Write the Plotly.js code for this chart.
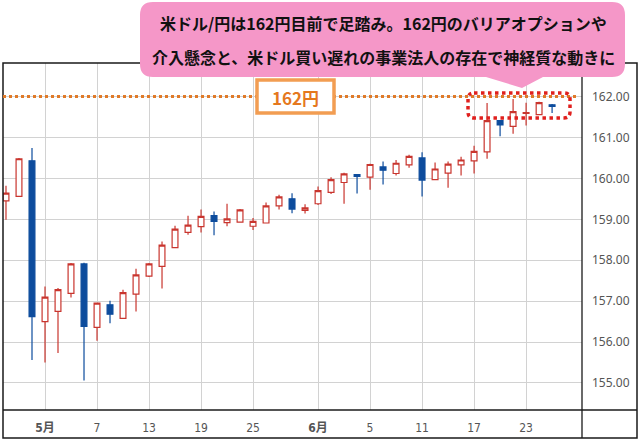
<!DOCTYPE html>
<html><head><meta charset="utf-8">
<script src="https://cdn.plot.ly/plotly-3.0.1.min.js"></script>
<style>html,body{margin:0;padding:0;background:#fff}#chart{width:640px;height:440px}</style>
</head><body><div id="chart"></div>
<script>
// ---- data ----
const dates = ['4/28','4/29','4/30','5/1','5/4','5/5','5/6','5/7','5/8','5/11','5/12','5/13','5/14','5/15','5/18','5/19','5/20','5/21','5/22','5/25','5/26','5/27','5/28','5/29','6/1','6/2','6/3','6/4','6/5','6/8','6/9','6/10','6/11','6/12','6/15','6/16','6/17','6/18','6/19','6/22','6/23','6/24','6/25'];
const openV  = [159.45,159.56,160.43,156.50,156.75,157.19,157.91,156.36,156.91,156.58,157.17,157.61,157.85,158.31,158.68,158.82,159.09,158.92,158.93,158.83,158.91,159.33,159.50,159.22,159.38,159.66,159.90,160.09,160.03,160.28,160.12,160.33,160.50,159.97,160.13,160.33,160.43,160.65,161.41,161.27,161.59,161.56,161.80];
const highV  = [159.82,160.50,160.74,157.36,157.32,157.93,157.94,156.97,157.01,157.28,157.79,157.93,158.46,158.84,159.09,159.24,159.19,159.38,159.25,159.03,159.41,159.60,159.64,159.37,159.80,160.03,160.14,160.11,160.36,160.41,160.45,160.58,160.64,160.39,160.41,160.53,160.80,161.84,161.42,161.94,161.85,161.87,161.82];
const lowV   = [158.99,159.56,155.56,155.50,155.73,157.09,155.06,156.03,156.46,156.57,156.75,157.59,157.31,158.30,158.62,158.68,158.61,158.83,158.93,158.74,158.91,159.24,159.15,159.14,159.35,159.62,159.38,159.63,159.72,159.85,160.07,160.26,159.56,159.97,159.77,160.07,160.12,160.48,161.03,161.09,161.29,161.56,161.60];
const closeV = [159.64,160.48,156.62,157.10,157.28,157.91,156.38,156.95,156.68,157.21,157.64,157.91,158.37,158.76,158.86,159.07,158.95,159.01,159.23,158.95,159.33,159.55,159.25,159.28,159.70,159.97,160.11,160.05,160.34,160.20,160.37,160.54,159.96,160.23,160.35,160.45,160.66,161.41,161.31,161.63,161.61,161.85,161.76];
const tickDates  = ['5/1','5/7','5/13','5/19','5/25','6/1','6/5','6/11','6/17','6/23'];
const tickLabels = ['<b>5月</b>','7','13','19','25','<b>6月</b>','5','11','17','23'];
const yTicks = [155,156,157,158,159,160,161,162];
const levelValue = 162;
const levelLabel = '162円';
const bubbleLines = ['米ドル/円は162円目前で足踏み。162円のバリアオプションや','介入懸念と、米ドル買い遅れの事業法人の存在で神経質な動きに'];

// ---- geometry helpers (pixel -> paper) ----
const PL=3, PR=582, PT=63, PB=410;
const px = x => (x-PL)/(PR-PL);
const py = y => (PB-y)/(PB-PT);
const pt = (x,y) => px(x).toFixed(5)+','+py(y).toFixed(5);
function roundRect(x0,y0,x1,y1,r){
  return 'M'+pt(x0+r,y0)+' L'+pt(x1-r,y0)+' Q'+pt(x1,y0)+' '+pt(x1,y0+r)+
    ' L'+pt(x1,y1-r)+' Q'+pt(x1,y1)+' '+pt(x1-r,y1)+' L'+pt(x0+r,y1)+
    ' Q'+pt(x0,y1)+' '+pt(x0,y1-r)+' L'+pt(x0,y0+r)+' Q'+pt(x0,y0)+' '+pt(x0+r,y0)+' Z';
}
function bubble(x0,y0,x1,y1,r,pa,tip,pb){
  return 'M'+pt(x0+r,y0)+' L'+pt(x1-r,y0)+' Q'+pt(x1,y0)+' '+pt(x1,y0+r)+
    ' L'+pt(x1,y1-r)+' Q'+pt(x1,y1)+' '+pt(x1-r,y1)+
    ' L'+pt(pb,y1)+' L'+pt(tip[0],tip[1])+' L'+pt(pa,y1)+
    ' L'+pt(x0+r,y1)+' Q'+pt(x0,y1)+' '+pt(x0,y1-r)+' L'+pt(x0,y0+r)+' Q'+pt(x0,y0)+' '+pt(x0+r,y0)+' Z';
}

const RED='#C9352E', BLUE='#0D4C9D';
const trace = {
  type:'candlestick', x:dates, open:openV, high:highV, low:lowV, close:closeV,
  increasing:{line:{color:RED,width:1.2}, fillcolor:'#ffffff'},
  decreasing:{line:{color:BLUE,width:1.2}, fillcolor:BLUE},
  whiskerwidth:0, hoverinfo:'skip', showlegend:false
};

const frameCol='#1a1a1a';
const layout = {
  width:640, height:440,
  margin:{l:PL, r:640-PR, t:PT, b:440-PB, pad:0},
  paper_bgcolor:'#ffffff', plot_bgcolor:'#ffffff',
  showlegend:false, boxgap:0.36,
  font:{family:'"Noto Sans", "Noto Sans CJK JP", sans-serif', size:12, color:'#555'},
  xaxis:{type:'category', range:[-0.23,44.3], rangeslider:{visible:false},
    tickvals:tickDates, ticktext:tickLabels, showgrid:true, gridcolor:'#d2d2d2', gridwidth:1,
    showline:false, zeroline:false, ticks:'', ticklabelstandoff:9, automargin:false, fixedrange:true,
    tickfont:{family:'"Liberation Sans Narrow", "DejaVu Sans Condensed", "Noto Sans CJK JP", sans-serif', size:12, color:'#555'}},
  yaxis:{side:'right', range:[154.34,162.82], tickvals:yTicks, tickformat:'.2f',
    showgrid:true, gridcolor:'#d2d2d2', gridwidth:1, zeroline:false, showline:false,
    ticks:'', ticklabelstandoff:9, automargin:false, fixedrange:true,
    tickfont:{family:'"Noto Sans", sans-serif', size:12, color:'#555'}},
  shapes:[
    {type:'rect', xref:'paper', yref:'paper', x0:px(3), x1:px(637), y0:py(438), y1:py(63), line:{color:frameCol,width:1.5}, layer:'above'},
    {type:'line', xref:'paper', yref:'paper', x0:px(3), x1:px(637), y0:0, y1:0, line:{color:frameCol,width:1.3}, layer:'above'},
    {type:'line', xref:'paper', yref:'paper', x0:1, x1:1, y0:py(438), y1:py(63), line:{color:frameCol,width:1.3}, layer:'above'},
    {type:'line', xref:'paper', yref:'y', x0:0, x1:px(578), y0:levelValue, y1:levelValue, line:{color:'#E07A28',width:3,dash:'dot'}, layer:'above'},
    {type:'rect', xref:'paper', yref:'paper', x0:px(257), x1:px(334), y0:py(113), y1:py(80), fillcolor:'#ffffff', line:{color:'#F29D52',width:3.5}, layer:'above'},
    {type:'path', xref:'paper', yref:'paper', path:roundRect(468,93,570,118,6), line:{color:'#E0201E',width:3.5,dash:'dot'}, layer:'above'},
    {type:'path', xref:'paper', yref:'paper', path:bubble(140,2,625,77,13,486,[522,88],543), fillcolor:'#F597C8', line:{width:0}, layer:'above'}
  ],
  annotations:[
    {xref:'paper', yref:'paper', x:px(296), y:py(97), text:'<b>'+levelLabel+'</b>', showarrow:false, xanchor:'center', yanchor:'middle',
     font:{family:'"Noto Sans CJK JP", sans-serif', size:17, color:'#E5781E'}},
    {xref:'paper', yref:'paper', x:px(383), y:py(23), text:'<b>'+bubbleLines[0]+'</b>', showarrow:false, xanchor:'center', yanchor:'middle',
     font:{family:'"Noto Sans CJK JP", sans-serif', size:16, color:'#111'}},
    {xref:'paper', yref:'paper', x:px(383), y:py(57), text:'<b>'+bubbleLines[1]+'</b>', showarrow:false, xanchor:'center', yanchor:'middle',
     font:{family:'"Noto Sans CJK JP", sans-serif', size:16, color:'#111'}}
  ]
};
Plotly.newPlot('chart',[trace],layout,{displayModeBar:false, staticPlot:true});
</script></body></html>
